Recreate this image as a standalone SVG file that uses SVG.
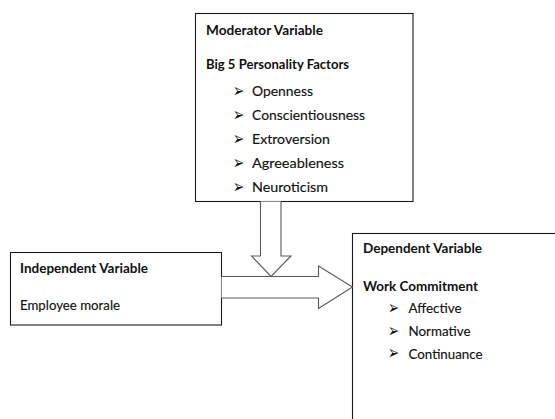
<svg xmlns="http://www.w3.org/2000/svg" width="555" height="419" viewBox="0 0 555 419">
  <style>
    .box { fill: #ffffff; stroke: #1a1a1a; stroke-width: 1.1; }
    .arrow { fill: #ffffff; stroke: #5a5a5a; stroke-width: 1.1; stroke-linejoin: miter; }
    .h { font-family: Lato, "Liberation Sans", sans-serif; font-weight: bold; font-size: 14px; fill: #111111; }
    .t { font-family: Lato, "Liberation Sans", sans-serif; font-size: 14px; fill: #111111; stroke: #111111; stroke-width: 0.15; }
    .b { font-family: "DejaVu Sans", sans-serif; font-size: 19px; fill: #111111; }
  </style>
  <rect width="555" height="419" fill="#ffffff"/>

  <g id="moderator">
    <rect class="box" x="195.5" y="13.5" width="217.5" height="188"/>
    <text class="h" x="206" y="35" textLength="117" lengthAdjust="spacingAndGlyphs">Moderator Variable</text>
    <text class="h" x="206" y="69" textLength="143" lengthAdjust="spacingAndGlyphs">Big 5 Personality Factors</text>
    <text class="b" x="233" y="96.5" textLength="11" lengthAdjust="spacingAndGlyphs">➢</text>
    <text class="t" x="252" y="96" textLength="61" lengthAdjust="spacingAndGlyphs">Openness</text>
    <text class="b" x="233" y="120.5" textLength="11" lengthAdjust="spacingAndGlyphs">➢</text>
    <text class="t" x="252" y="120" textLength="113" lengthAdjust="spacingAndGlyphs">Conscientiousness</text>
    <text class="b" x="233" y="144.5" textLength="11" lengthAdjust="spacingAndGlyphs">➢</text>
    <text class="t" x="252" y="144" textLength="78" lengthAdjust="spacingAndGlyphs">Extroversion</text>
    <text class="b" x="233" y="168.5" textLength="11" lengthAdjust="spacingAndGlyphs">➢</text>
    <text class="t" x="252" y="168" textLength="92" lengthAdjust="spacingAndGlyphs">Agreeableness</text>
    <text class="b" x="233" y="192.5" textLength="11" lengthAdjust="spacingAndGlyphs">➢</text>
    <text class="t" x="252" y="192" textLength="76" lengthAdjust="spacingAndGlyphs">Neuroticism</text>
  </g>

  <g id="independent">
    <rect class="box" x="10.5" y="252.5" width="211" height="72.5"/>
    <text class="h" x="20" y="273" textLength="128" lengthAdjust="spacingAndGlyphs">Independent Variable</text>
    <text class="t" x="20" y="310" textLength="100" lengthAdjust="spacingAndGlyphs">Employee morale</text>
  </g>

  <g id="dependent">
    <rect class="box" x="352.5" y="233.5" width="240" height="220"/>
    <text class="h" x="363" y="253" textLength="119" lengthAdjust="spacingAndGlyphs">Dependent Variable</text>
    <text class="h" x="363" y="290.5" textLength="115" lengthAdjust="spacingAndGlyphs">Work Commitment</text>
    <text class="b" x="388" y="313.5" textLength="11" lengthAdjust="spacingAndGlyphs">➢</text>
    <text class="t" x="408.5" y="313" textLength="53" lengthAdjust="spacingAndGlyphs">Affective</text>
    <text class="b" x="388" y="336.5" textLength="11" lengthAdjust="spacingAndGlyphs">➢</text>
    <text class="t" x="408.5" y="336" textLength="62" lengthAdjust="spacingAndGlyphs">Normative</text>
    <text class="b" x="388" y="359" textLength="11" lengthAdjust="spacingAndGlyphs">➢</text>
    <text class="t" x="408.5" y="358.5" textLength="74" lengthAdjust="spacingAndGlyphs">Continuance</text>
  </g>

  <g id="connectors">
    <path class="arrow" d="M221.5,276.5 H318.5 V266 L352.5,287 L318.5,308.5 V298 H221.5"/>
    <path class="arrow" d="M260.5,201.5 V256 H251.5 L271,276.5 L291,256 H281 V201.5"/>
  </g>
</svg>
